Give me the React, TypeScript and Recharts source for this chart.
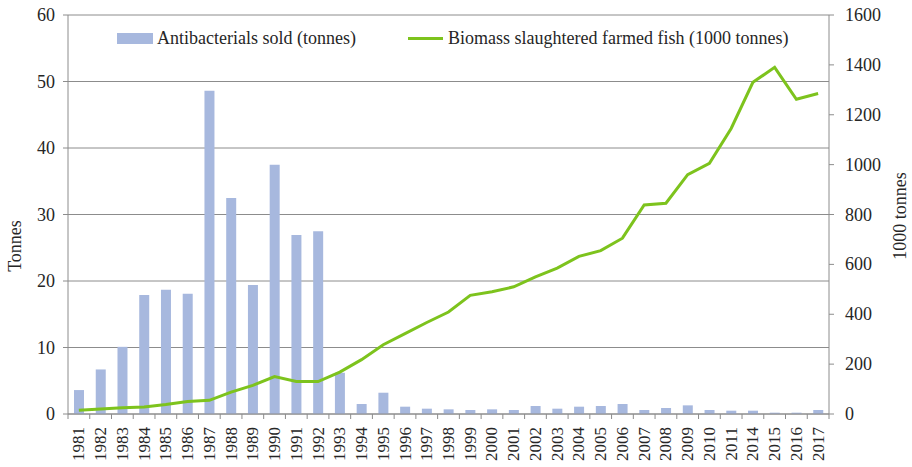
import {
  Bar,
  CartesianGrid,
  ComposedChart,
  Legend,
  Line,
  XAxis,
  YAxis,
} from "recharts";

const years = [
  "1981", "1982", "1983", "1984", "1985", "1986", "1987", "1988", "1989", "1990",
  "1991", "1992", "1993", "1994", "1995", "1996", "1997", "1998", "1999", "2000",
  "2001", "2002", "2003", "2004", "2005", "2006", "2007", "2008", "2009", "2010",
  "2011", "2014", "2015", "2016", "2017",
];

// tonnes
const antibacterials = [
  3.6, 6.7, 10.1, 17.9, 18.7, 18.1, 48.6, 32.5, 19.4, 37.5,
  26.9, 27.5, 6.2, 1.5, 3.2, 1.1, 0.8, 0.7, 0.6, 0.7,
  0.6, 1.2, 0.8, 1.1, 1.2, 1.5, 0.6, 0.9, 1.3, 0.6,
  0.5, 0.5, 0.2, 0.2, 0.6,
];

// 1000 tonnes
const biomass = [
  15, 20, 25, 28, 38, 50, 55, 88, 115, 150,
  130, 130, 168, 218, 278, 322, 367, 409, 476, 490,
  510, 550, 585, 632, 655, 705, 838, 845, 960, 1005,
  1145, 1330, 1390, 1262, 1285,
];

const leftTicks = [0, 10, 20, 30, 40, 50, 60];
const rightTicks = [0, 200, 400, 600, 800, 1000, 1200, 1400, 1600];

const data = years.map((year, i) => ({
  year,
  antibacterials: antibacterials[i],
  biomass: biomass[i],
}));

const W = 912;
const H = 467;
const LEFT_W = 68;
const RIGHT_W = 83;
const X_H = 53;
const HALF_BAND = (W - LEFT_W - RIGHT_W) / years.length / 2;

const FONT = "'Liberation Serif', 'Times New Roman', serif";
const TEXT = "#262626";
const GRID = "#8c8c8c";
const BAR = "#a7b8de";
const LINE = "#7dc31d";

function YearTick({ x, y, payload, index }: any) {
  const ty = y + 13;
  return (
    <g>
      <line x1={x - HALF_BAND} x2={x - HALF_BAND} y1={y} y2={y + 5} stroke={GRID} />
      {index === years.length - 1 && (
        <line x1={x + HALF_BAND} x2={x + HALF_BAND} y1={y} y2={y + 5} stroke={GRID} />
      )}
      <text
        x={x}
        y={ty}
        transform={`rotate(-90 ${x} ${ty})`}
        textAnchor="end"
        dominantBaseline="central"
        style={{ fontFamily: FONT, fontSize: 17 }}
        fill={TEXT}
      >
        {payload.value}
      </text>
    </g>
  );
}

function ValueTick({ x, y, payload, textAnchor }: any) {
  return (
    <text
      x={x}
      y={y}
      textAnchor={textAnchor}
      dominantBaseline="central"
      style={{ fontFamily: FONT, fontSize: 18 }}
      fill={TEXT}
    >
      {payload.value}
    </text>
  );
}

function LegendBox() {
  return (
    <div
      style={{
        display: "flex",
        alignItems: "center",
        fontFamily: FONT,
        fontSize: 18,
        color: TEXT,
        whiteSpace: "nowrap",
      }}
    >
      <span style={{ width: 36, height: 11, background: BAR, marginRight: 4 }} />
      <span>Antibacterials sold (tonnes)</span>
      <span style={{ width: 35, height: 3, background: LINE, marginLeft: 52, marginRight: 5 }} />
      <span>Biomass slaughtered farmed fish (1000 tonnes)</span>
    </div>
  );
}

export default function App() {
  return (
    <div
      style={{
        position: "absolute",
        left: 0,
        top: 0,
        width: W,
        height: H,
        background: "#fff",
        fontFamily: FONT,
      }}
    >
      <ComposedChart
        width={W}
        height={H}
        data={data}
        margin={{ top: 15, right: 0, bottom: 0, left: 0 }}
        style={{ fontFamily: FONT }}
      >
        <CartesianGrid yAxisId="left" vertical={false} stroke={GRID} />
        <XAxis
          dataKey="year"
          interval={0}
          height={X_H}
          tickSize={0}
          tickMargin={0}
          tick={<YearTick />}
          axisLine={{ stroke: GRID }}
        />
        <YAxis
          yAxisId="left"
          width={LEFT_W}
          domain={[0, 60]}
          ticks={leftTicks}
          tickSize={5}
          tickMargin={8}
          tickLine={{ stroke: GRID }}
          axisLine={{ stroke: GRID }}
          tick={<ValueTick />}
        />
        <YAxis
          yAxisId="right"
          orientation="right"
          width={RIGHT_W}
          domain={[0, 1600]}
          ticks={rightTicks}
          tickSize={5}
          tickMargin={11}
          tickLine={{ stroke: GRID }}
          axisLine={{ stroke: GRID }}
          tick={<ValueTick />}
        />
        <Legend
          layout="horizontal"
          verticalAlign="middle"
          align="center"
          content={<LegendBox />}
          wrapperStyle={{ top: 28, left: 117, width: "auto" }}
        />
        <Bar
          yAxisId="left"
          dataKey="antibacterials"
          name="Antibacterials sold (tonnes)"
          fill={BAR}
          barSize={10}
          isAnimationActive={false}
        />
        <Line
          yAxisId="right"
          dataKey="biomass"
          name="Biomass slaughtered farmed fish (1000 tonnes)"
          stroke={LINE}
          strokeWidth={3}
          dot={false}
          type="linear"
          isAnimationActive={false}
        />
      </ComposedChart>
      <div
        style={{
          position: "absolute",
          left: 15,
          top: 246,
          transform: "translate(-50%, -50%) rotate(-90deg)",
          fontSize: 18,
          color: TEXT,
          whiteSpace: "nowrap",
        }}
      >
        Tonnes
      </div>
      <div
        style={{
          position: "absolute",
          left: 900,
          top: 216,
          transform: "translate(-50%, -50%) rotate(-90deg)",
          fontSize: 18,
          color: TEXT,
          whiteSpace: "nowrap",
        }}
      >
        1000 tonnes
      </div>
    </div>
  );
}
